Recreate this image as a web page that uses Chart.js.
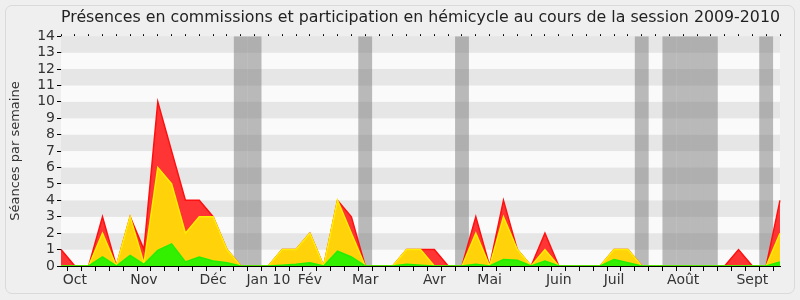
<!DOCTYPE html>
<html>
<head>
<meta charset="utf-8">
<script src="https://cdn.jsdelivr.net/npm/chart.js@4/dist/chart.umd.min.js"></script>
<style>
  body { margin: 0; background: #efefef; }
  #wrap { position: relative; width: 800px; height: 300px; }
  #frame { position: absolute; left: 5px; top: 5px; width: 788px; height: 287px;
           border: 1px solid #dadada; border-radius: 7px; }
  canvas { position: absolute; left: 0; top: 0; }
</style>
</head>
<body>
<div id="wrap">
  <div id="frame"></div>
  <canvas id="chart" width="800" height="300"></canvas>
</div>
<script>
// one label per week of the session, month names on the first week of each month
const weeks = ['', 'Oct', '', '', '', '', 'Nov', '', '', '', '', 'Déc', '', '', '', 'Jan 10', '', '', 'Fév', '', '',
    '', 'Mar', '', '', '', '', 'Avr', '', '', '', 'Mai', '', '', '', '', 'Juin', '', '', '', 'Juil', '',
    '', '', '', 'Août', '', '', '', '', 'Sept', '', ''];

// weeks without sittings (grey bands)
const vacances = [0, 0, 0, 0, 0, 0, 0, 0, 0, 0,
    0, 0, 0, 1, 1, 0, 0, 0, 0, 0,
    0, 0, 1, 0, 0, 0, 0, 0, 0, 1,
    0, 0, 0, 0, 0, 0, 0, 0, 0, 0,
    0, 0, 1, 0, 1, 1, 1, 1, 0, 0,
    0, 1, 0];

// stacked parts, bottom to top
const vert = [0, 0, 0, 0.55, 0, 0.65, 0.1, 0.95, 1.35, 0.25,
    0.55, 0.3, 0.2, 0, 0, 0, 0.05, 0.1, 0.2, 0,
    0.9, 0.55, 0, 0, 0, 0.1, 0.05, 0, 0, 0,
    0.1, 0, 0.4, 0.35, 0, 0.3, 0, 0, 0, 0,
    0.4, 0.2, 0, 0, 0, 0, 0, 0, 0, 0,
    0, 0, 0.25];
const jaune = [0, 0, 0, 1.45, 0, 2.35, 0.05, 5.05, 3.65, 1.75,
    2.45, 2.7, 0.8, 0, 0, 0, 0.95, 0.9, 1.8, 0,
    3.1, 1.45, 0, 0, 0, 0.9, 0.95, 0, 0, 0,
    1.9, 0, 2.6, 0.65, 0, 0.7, 0, 0, 0, 0,
    0.6, 0.8, 0, 0, 0, 0, 0, 0, 0, 0,
    0, 0, 1.75];
const rouge = [1, 0, 0, 1, 0, 0, 0.85, 4, 2, 2,
    1, 0, 0, 0, 0, 0, 0, 0, 0, 0,
    0, 1, 0, 0, 0, 0, 0, 1, 0, 0,
    1, 0, 1, 0, 0, 1, 0, 0, 0, 0,
    0, 0, 0, 0, 0, 0, 0, 0, 0, 1,
    0, 0, 2];

const yTicks = [0, 1, 2, 3, 4, 5, 6, 7, 8, 9, 10, 11, 12, 13, 14];

const FONT = 'DejaVu Sans';

// horizontal stripes behind everything
const stripes = {
    id: 'stripes',
    beforeDatasetsDraw(chart) {
        const { ctx, chartArea: a, scales: { y } } = chart;
        ctx.save();
        for (let k = 0; k < yTicks.length - 1; k++) {
            const top = y.getPixelForValue(yTicks[k + 1]);
            const bot = y.getPixelForValue(yTicks[k]);
            ctx.fillStyle = k % 2 ? '#e6e6e6' : '#fafafa';
            ctx.fillRect(a.left, top, a.right - a.left, bot - top);
        }
        ctx.restore();
    }
};

const line = (data, fill, border, bg) => ({
    type: 'line', data, fill, borderColor: border, backgroundColor: bg,
    borderWidth: 1.5, pointRadius: 0, tension: 0, yAxisID: 'y'
});

new Chart(document.getElementById('chart'), {
    data: {
        labels: weeks,
        datasets: [
            line(vert, 'origin', '#22ee00', '#33f000'),
            line(jaune, '-1', '#ffee00', '#ffd20a'),
            line(rouge, '-1', '#ff1010', '#ff3535'),
            {
                type: 'bar', data: vacances, yAxisID: 'yb', order: 10,
                backgroundColor: 'rgba(120,120,120,0.5)',
                borderWidth: 0, inflateAmount: 0,
                barPercentage: 1, categoryPercentage: 1
            }
        ]
    },
    plugins: [stripes],
    options: {
        responsive: false,
        animation: false,
        layout: { padding: { left: 0, right: 20, top: 0, bottom: 0 } },
        plugins: {
            legend: { display: false },
            tooltip: { enabled: false },
            title: {
                display: true,
                fullSize: false,
                text: 'Présences en commissions et participation en hémicycle au cours de la session 2009-2010',
                color: '#222',
                font: { family: FONT, size: 16, weight: 'normal' },
                padding: { top: 8, bottom: 6 }
            }
        },
        scales: {
            x: {
                type: 'category', position: 'bottom', offset: false, z: 1,
                grid: { drawOnChartArea: false, tickLength: 5, color: '#000' },
                border: { color: '#000', width: 1 },
                ticks: { autoSkip: false, maxRotation: 0, color: '#333', padding: 1,
                         font: { family: FONT, size: 14 } },
                afterFit: s => { s.height = 34; }
            },
            x2: {
                type: 'category', position: 'top', offset: false,
                grid: { drawOnChartArea: false, tickLength: 2, color: '#000' },
                border: { display: false },
                ticks: { display: false },
                afterFit: s => { s.height = 3; }
            },
            y: {
                stacked: true, min: 0, max: 14,
                grid: { drawOnChartArea: false, tickLength: 4, color: '#000' },
                border: { color: '#000', width: 1 },
                ticks: { stepSize: 1, autoSkip: false, color: '#333', padding: 2,
                         font: { family: FONT, size: 14 } },
                title: { display: true, text: 'Séances par semaine', color: '#333',
                         font: { family: FONT, size: 13 }, padding: { top: 8, bottom: 2 } },
                afterFit: s => { s.width = 61; }
            },
            yb: { display: false, min: 0, max: 1 }
        }
    }
});
</script>
</body>
</html>
